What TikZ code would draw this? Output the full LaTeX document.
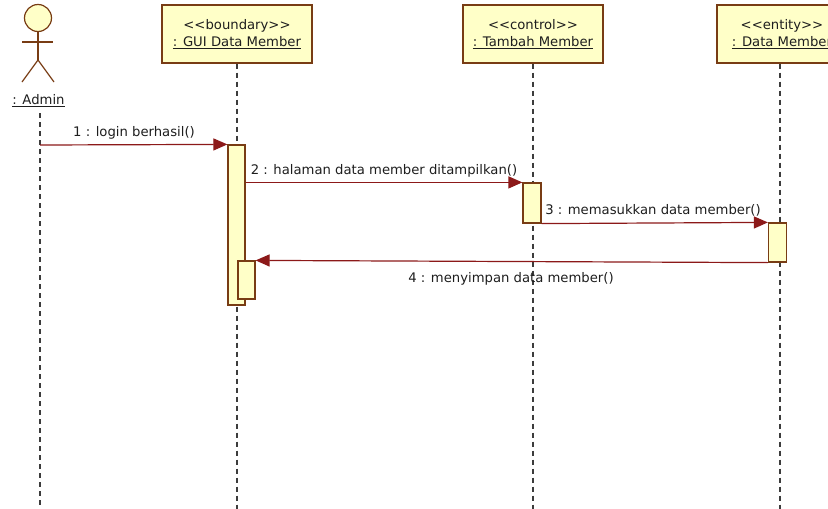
\documentclass[tikz,border=0pt]{standalone}
\usepackage{fontspec}
\setmainfont{DejaVu Sans}
\usetikzlibrary{arrows.meta}
\definecolor{boxfill}{RGB}{255,255,200}
\definecolor{boxline}{RGB}{120,60,20}
\definecolor{msgline}{RGB}{140,25,25}
\definecolor{lifecol}{RGB}{60,60,60}
\definecolor{txtcol}{RGB}{30,30,30}
\newcommand{\stlt}{<\kern0pt<}
\newcommand{\stgt}{>\kern0pt>}
\begin{document}
\begin{tikzpicture}[x=1pt,y=-1pt,
  objbox/.style={draw=boxline, fill=boxfill, line width=1.2pt, minimum width=#1, minimum height=58pt, align=center, inner sep=0pt, text=txtcol, font=\fontsize{13.2}{17}\selectfont},
  actbox/.style={draw=boxline, fill=boxfill, line width=1.2pt, minimum width=17pt, inner sep=0pt},
  lifeline/.style={draw=lifecol, line width=1.2pt, dash pattern=on 5pt off 4pt},
  msg/.style={draw=msgline, line width=1.2pt, -{Triangle[length=14pt,width=12pt]}},
  lbl/.style={font=\fontsize{13.2}{15}\selectfont, inner sep=0pt, text=txtcol},
  actorline/.style={draw=boxline, line width=1.2pt}
]
\clip (0,0) rectangle (828,509);
\fill[white] (0,0) rectangle (828,509);

% actor
\node[circle, draw=boxline, fill=boxfill, line width=1.2pt, minimum size=27pt, inner sep=0pt] (head) at (38,18) {};
\coordinate (hip) at (38,60);
\coordinate (larm) at (22,42);
\coordinate (rarm) at (53,42);
\coordinate (lfoot) at (22,82);
\coordinate (rfoot) at (54,82);
\draw[actorline] (head.south) -- (hip);
\draw[actorline] (larm) -- (rarm);
\draw[actorline] (lfoot) -- (hip) -- (rfoot);
\node[lbl] (admin) at (38.5,101) {\underline{: Admin}};

% objects
\node[objbox=150pt] (gui) at (237,34) {\stlt boundary\stgt\\\underline{: GUI Data Member}};
\node[objbox=140pt] (tambah) at (533,34) {\stlt control\stgt\\\underline{: Tambah Member}};
\node[objbox=130pt] (data) at (782,34) {\stlt entity\stgt\\\underline{: Data Member}};

% lifeline ends
\coordinate (adminend) at (40,509);
\coordinate (guiend) at (237,509);
\coordinate (tambahend) at (533,509);
\coordinate (dataend) at (780,509);
\draw[lifeline] (40,113) -- (adminend);
\draw[lifeline] (gui.south) -- (guiend);
\draw[lifeline] (tambah.south) -- (tambahend);
\draw[lifeline] (data.south -| dataend) -- (dataend);

% activations
\node[actbox, minimum height=160pt] (gact) at (236.5,225) {};
\node[actbox, minimum height=38pt] (gact2) at (246.5,280) {};
\node[actbox, minimum width=18pt, minimum height=40pt] (tact) at (532,203) {};
\node[actbox, minimum width=18pt, minimum height=39pt] (dact) at (777.5,242.5) {};

% messages
\coordinate (m1s) at (40,145);
\draw[msg] (m1s) -- (gact.north west);
\node[lbl] (l1) at (134,133) {1 : login berhasil()};

\draw[msg] (gact.east |- tact.north) -- (tact.north west);
\node[lbl] (l2) at (384,171) {2 : halaman data member ditampilkan()};

\draw[msg] (tact.south east) -- (dact.north west);
\node[lbl] (l3) at (653,210) {3 : memasukkan data member()};

\draw[msg] (dact.south west) -- (gact2.north east);
\node[lbl] (l4) at (511,279) {4 : menyimpan data member()};
\end{tikzpicture}
\end{document}
